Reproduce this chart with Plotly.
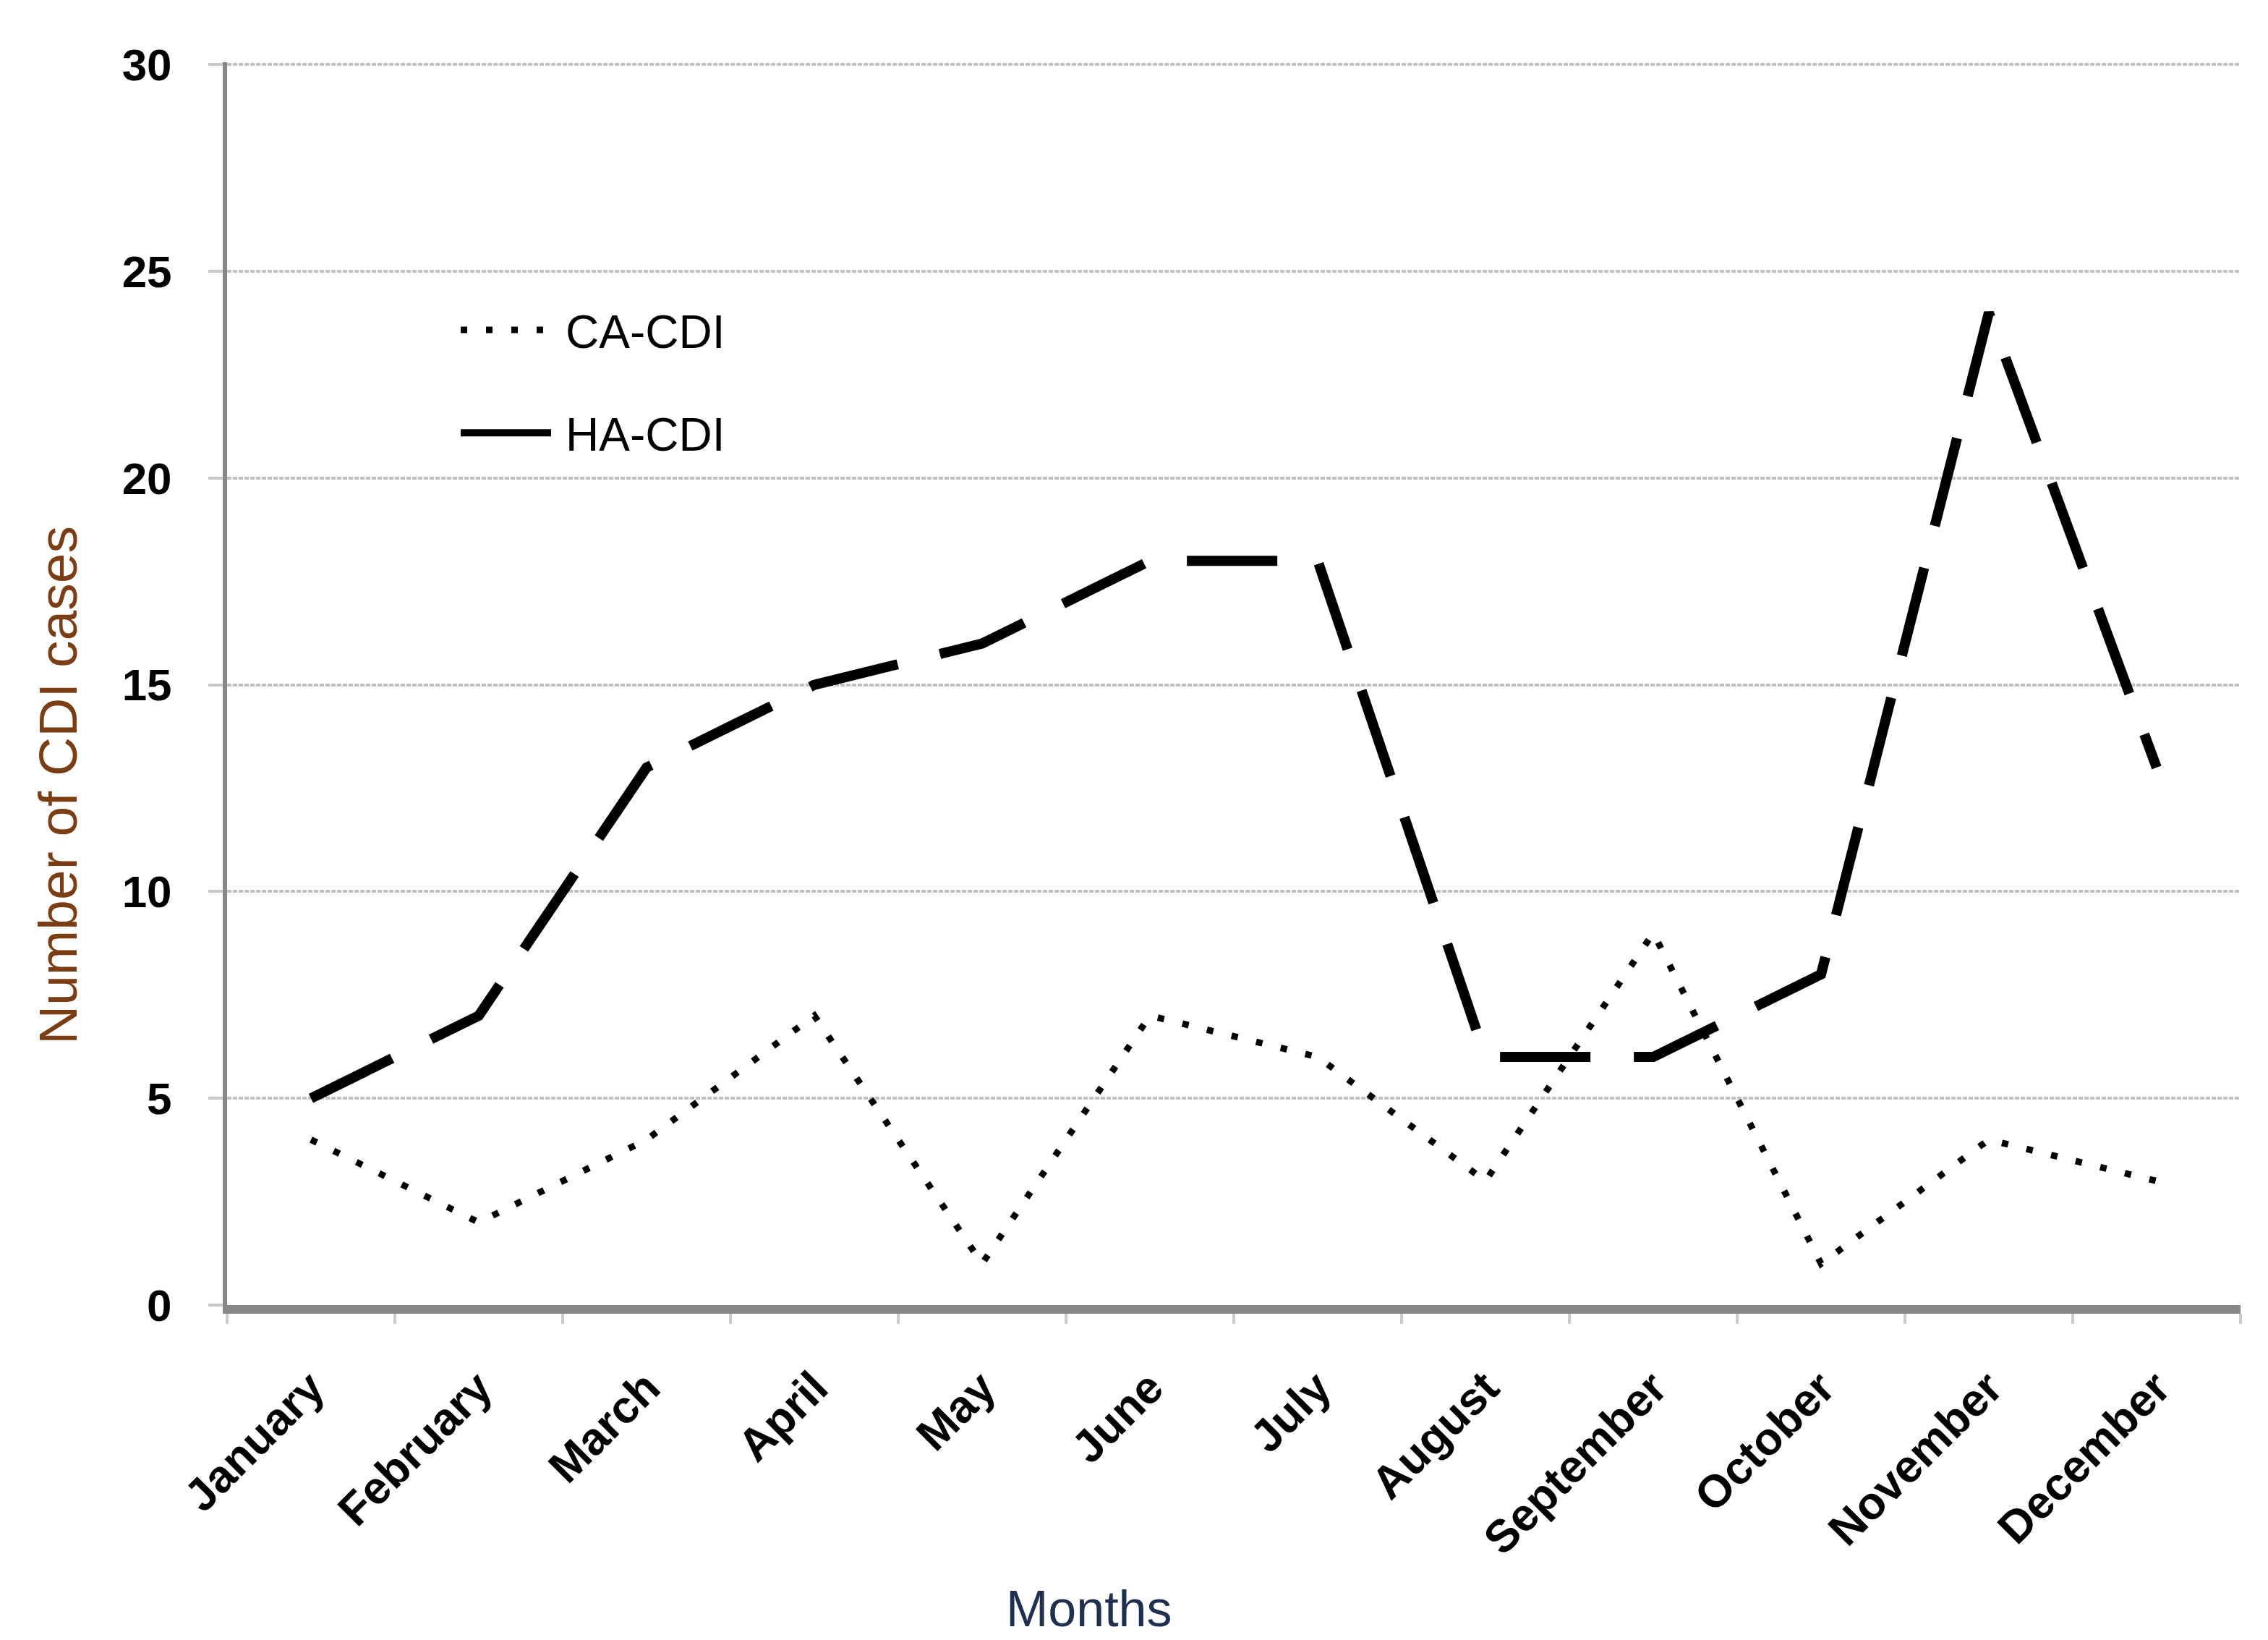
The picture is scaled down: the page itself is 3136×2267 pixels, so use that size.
import plotly.graph_objects as go

months = ["January", "February", "March", "April", "May", "June", "July",
          "August", "September", "October", "November", "December"]
ca_cdi = [4, 2, 4, 7, 1, 7, 6, 3, 9, 1, 4, 3]
ha_cdi = [5, 7, 13, 15, 16, 18, 18, 6, 6, 8, 24, 13]
y_ticks = [0, 5, 10, 15, 20, 25, 30]

W, H = 3136, 2267
L, R, T, B = 306, 46, 78, 471
FONT = "Liberation Sans, Arial, sans-serif"

fig = go.Figure()
fig.add_trace(go.Scatter(
    x=months, y=ca_cdi, mode="lines", name="CA-CDI", legendgroup="ca",
    line=dict(color="black", width=9, dash="9px,26px"),
))
fig.add_trace(go.Scatter(
    x=months, y=ha_cdi, mode="lines", name="HA-CDI", legendgroup="ha",
    line=dict(color="black", width=14, dash="125px,60px"),
))

fig.update_layout(
    width=W, height=H,
    margin=dict(l=L, r=R, t=T, b=B, autoexpand=False),
    paper_bgcolor="white", plot_bgcolor="white",
    font=dict(family=FONT, color="black"),
    showlegend=True,
    legend=dict(
        x=(624 - L) / (W - L - R), y=1 - (400 - T) / (H - T - B),
        xanchor="left", yanchor="top",
        font=dict(size=64, color="black"),
        bgcolor="rgba(0,0,0,0)", itemwidth=140,
        traceorder="grouped", tracegroupgap=56,
    ),
    xaxis=dict(
        type="category", categoryorder="array", categoryarray=months,
        range=[-0.5, 11.5],
        showline=True, linecolor="#878787", linewidth=12,
        ticks="outside", tickson="boundaries", ticklen=14, tickwidth=4,
        tickcolor="#cccccc",
        tickangle=-45, tickfont=dict(size=63, weight="bold", color="black"),
        ticklabelstandoff=40,
        showgrid=False, zeroline=False,
    ),
    yaxis=dict(
        range=[0, 30.06], tickvals=y_ticks,
        showline=True, linecolor="#878787", linewidth=6,
        ticks="outside", ticklen=20, tickwidth=4, tickcolor="#c8c8c8",
        tickfont=dict(size=62, weight="bold", color="black"),
        ticklabelstandoff=38,
        showgrid=True, gridcolor="#c0c0c0", gridwidth=4, griddash="6px,2px",
        zeroline=False,
    ),
    annotations=[
        dict(text="Number of CDI cases", xref="paper", yref="paper",
             x=-(L - 72) / (W - L - R), y=1 - (1078 - T) / (H - T - B),
             xanchor="center", yanchor="middle", textangle=-90,
             showarrow=False, font=dict(size=75, color="#7a3d14")),
        dict(text="Months", xref="paper", yref="paper",
             x=(1498 - L) / (W - L - R), y=-(2216 - (H - B)) / (H - T - B),
             xanchor="center", yanchor="middle",
             showarrow=False, font=dict(size=70, color="#1f2f4f")),
    ],
)

fig.write_html("out.html")
